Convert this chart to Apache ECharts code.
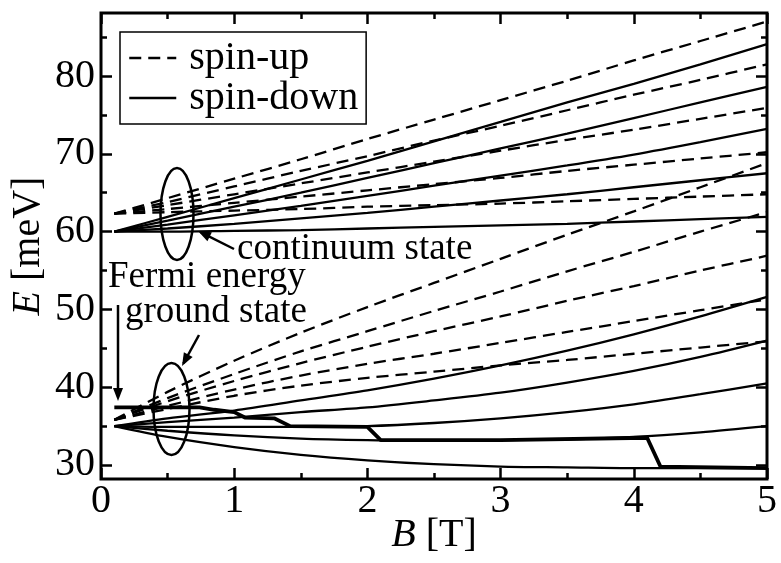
<!DOCTYPE html>
<html>
<head>
<meta charset="utf-8">
<script src="https://cdn.jsdelivr.net/npm/echarts@6/dist/echarts.min.js"></script>
<style>html,body{margin:0;padding:0;background:#fff}#c{width:781px;height:563px}</style>
</head>
<body>
<div id="c"></div>
<script>
// Magnetic field samples [T]
const B = [0.1, 0.5, 1, 1.5, 2, 2.5, 3, 3.5, 4, 4.5, 5];

// Continuum states, spin-down (solid)
const contDown1 = [60, 61.9, 64.3, 66.7, 69.1, 71.6, 74.1, 76.6, 79.0, 81.5, 84.1];
const contDown2 = [60, 61.4, 63.2, 65.0, 66.9, 68.8, 70.7, 72.6, 74.6, 76.6, 78.6];
const contDown3 = [60, 60.9, 62.1, 63.3, 64.6, 65.9, 67.2, 68.5, 69.9, 71.5, 73.2];
const contDown4 = [60, 60.4, 61.0, 61.7, 62.4, 63.2, 64.0, 64.8, 65.7, 66.6, 67.5];
const contDown5 = [60, 60.0, 60.1, 60.2, 60.4, 60.6, 60.8, 61.0, 61.3, 61.6, 61.9];

// Continuum states, spin-up (dashed)
const contUp1 = [62.3, 64.3, 66.8, 69.3, 71.9, 74.4, 76.9, 79.4, 82.0, 84.5, 87.0];
const contUp2 = [62.3, 63.8, 65.8, 67.8, 69.7, 71.7, 73.6, 75.6, 77.6, 79.5, 81.5];
const contUp3 = [62.3, 63.4, 64.8, 66.2, 67.6, 69.0, 70.4, 71.8, 73.1, 74.5, 75.9];
const contUp4 = [62.3, 62.9, 63.7, 64.5, 65.3, 66.1, 66.9, 67.8, 68.6, 69.4, 70.2];
const contUp5 = [62.3, 62.5, 62.7, 62.9, 63.2, 63.4, 63.6, 63.9, 64.2, 64.5, 64.8];

// Ground states, spin-down (solid)
const gndDown1 = [35.0, 36.0, 37.0, 38.3, 39.6, 41.1, 42.8, 44.7, 46.8, 49.1, 51.6];
const gndDown2 = [35.0, 35.5, 36.1, 36.8, 37.4, 38.3, 39.3, 40.6, 42.1, 43.9, 46.0];
const gndDown3 = [35.0, 34.9, 34.9, 34.9, 35.0, 35.4, 36.0, 36.8, 37.8, 39.1, 40.5];
const gndDown4 = [35.0, 34.4, 33.8, 33.4, 33.2, 33.1, 33.2, 33.3, 33.6, 34.2, 35.0];
const gndDown5 = [35.0, 33.6, 32.3, 31.3, 30.6, 30.1, 29.8, 29.7, 29.6, 29.6, 29.6];

// Ground states, spin-up (dashed)
const gndUp1 = [35.8, 39.4, 43.4, 47.0, 50.3, 53.4, 56.5, 59.6, 62.6, 65.7, 68.8];
const gndUp2 = [35.8, 38.6, 41.7, 44.6, 47.2, 49.8, 52.3, 54.9, 57.4, 60.0, 62.5];
const gndUp3 = [35.8, 38.2, 40.8, 43.1, 45.2, 47.2, 49.1, 51.1, 53.0, 55.0, 56.9];
const gndUp4 = [35.8, 37.6, 39.7, 41.5, 43.0, 44.3, 45.7, 47.1, 48.5, 49.9, 51.3];
const gndUp5 = [35.8, 37.2, 38.9, 40.2, 41.2, 42.0, 42.8, 43.5, 44.3, 45.1, 45.9];

// Fermi energy (thick)
const fermiB = [0.1, 0.74, 0.85, 1.0, 1.08, 1.3, 1.42, 2.0, 2.1, 3.0, 4.1, 4.2, 5.0];
const fermiE = [37.4, 37.4, 37.1, 36.8, 36.1, 36.0, 35.0, 34.9, 33.2, 33.2, 33.5, 29.8, 29.6];

// Tick labels
const xTicks = [0, 1, 2, 3, 4, 5];
const yMajor = [30, 40, 50, 60, 70, 80];
const yMinor = [35, 45, 55, 65, 75, 85];

const FONT = '"Liberation Serif", "DejaVu Serif", serif';
const pairs = (xs, ys) => xs.map((x, i) => [x, ys[i]]);

const solidSets = [contDown1, contDown2, contDown3, contDown4, contDown5,
                   gndDown1, gndDown2, gndDown3, gndDown4, gndDown5];
const dashSets = [contUp1, contUp2, contUp3, contUp4, contUp5,
                  gndUp1, gndUp2, gndUp3, gndUp4, gndUp5];

const series = [];
dashSets.forEach(ys => series.push({
  name: 'spin-up', type: 'line', data: pairs(B, ys), symbol: 'none', smooth: 0.3,
  lineStyle: { color: '#000', width: 2.3, type: [12, 7] }, itemStyle: { color: '#000' },
  silent: true, z: 3
}));
solidSets.forEach(ys => series.push({
  name: 'spin-down', type: 'line', data: pairs(B, ys), symbol: 'none', smooth: 0.3,
  lineStyle: { color: '#000', width: 2.3, type: 'solid' }, itemStyle: { color: '#000' },
  silent: true, z: 3
}));
series.push({
  name: 'Fermi energy', type: 'line', data: pairs(fermiB, fermiE), symbol: 'none',
  lineStyle: { color: '#000', width: 3.8 }, itemStyle: { color: '#000' }, silent: true, z: 4
});

const yMin = 28.2, yMax = 88.1;
const tickStyle = { color: '#000', width: 2.5 };
const nameStyle = { fontFamily: FONT, fontSize: 40, color: '#000',
  rich: { i: { fontFamily: FONT, fontSize: 40, fontStyle: 'italic', color: '#000' } } };

function yAx(pos, values, len, labels) {
  return {
    type: 'value', position: pos, min: yMin, max: yMax,
    axisLine: { show: false }, splitLine: { show: false },
    axisTick: { show: true, inside: true, length: len, lineStyle: tickStyle, customValues: values },
    axisLabel: labels ? { show: true, customValues: values, fontFamily: FONT, fontSize: 40, color: '#000', margin: 6 } : { show: false },
    name: labels ? '{i|E} [meV]' : '', nameLocation: 'middle', nameGap: 53, nameRotate: 90,
    nameMoveOverlap: false,
    nameTextStyle: nameStyle
  };
}
function xAx(pos, labels) {
  return {
    type: 'value', position: pos, min: 0, max: 5, interval: 1,
    axisLine: { show: false }, splitLine: { show: false },
    axisTick: { show: true, inside: true, length: 11, lineStyle: tickStyle },
    minorTick: { show: true, splitNumber: 2, length: 6, lineStyle: tickStyle },
    axisLabel: labels ? { show: true, fontFamily: FONT, fontSize: 40, color: '#000', margin: 2 } : { show: false },
    name: labels ? '{i|B} [T]' : '', nameLocation: 'middle', nameGap: 36,
    nameMoveOverlap: false,
    nameTextStyle: nameStyle
  };
}

const chart = echarts.init(document.getElementById('c'), null, { renderer: 'canvas' });
chart.setOption({
  animation: false,
  backgroundColor: '#fff',
  grid: { left: 101, right: 14, top: 13, bottom: 84, show: true, borderColor: '#000', borderWidth: 3,
          backgroundColor: 'transparent', containLabel: false, outerBoundsMode: 'none' },
  xAxis: [xAx('bottom', true), xAx('top', false)],
  yAxis: [yAx('left', yMajor, 11, true), yAx('left', yMinor, 6, false),
          yAx('right', yMajor, 11, false), yAx('right', yMinor, 6, false)],
  legend: {
    data: ['spin-up', 'spin-down'], orient: 'vertical', left: 120, top: 32,
    borderColor: '#000', borderWidth: 1.5, padding: [6, 8, 6, 8], itemGap: 0,
    itemWidth: 47, itemHeight: 14, selectedMode: false,
    itemStyle: { opacity: 0, borderWidth: 0 },
    lineStyle: { width: 2.5 },
    textStyle: { fontFamily: FONT, fontSize: 40, color: '#000', padding: [0, 0, 0, 8] }
  },
  series: series
});

// Annotations (pixel positions)
const arrowHead = (x1, y1, x2, y2, len, half) => {
  const dx = x2 - x1, dy = y2 - y1, L = Math.hypot(dx, dy), ux = dx / L, uy = dy / L;
  const bx = x2 - ux * len, by = y2 - uy * len;
  return [[x2, y2], [bx - uy * half, by + ux * half], [bx + uy * half, by - ux * half]];
};
const stroke = { stroke: '#000', lineWidth: 2.5, fill: null };
const txt = (t, x, y) => ({ type: 'text', x: x, y: y, silent: true,
  style: { text: t, font: '37px ' + FONT, fill: '#000', verticalAlign: 'middle', align: 'left' } });
const arrow = (x1, y1, x2, y2) => [
  { type: 'line', silent: true, shape: { x1: x1, y1: y1, x2: x2 - (x2 - x1) * 0.08, y2: y2 - (y2 - y1) * 0.08 }, style: { stroke: '#000', lineWidth: 2.5 } },
  { type: 'polygon', silent: true, shape: { points: arrowHead(x1, y1, x2, y2, 13, 5) }, style: { fill: '#000' } }
];
chart.setOption({
  graphic: [
    { type: 'ellipse', silent: true, shape: { cx: 177, cy: 214, rx: 16.5, ry: 46 }, style: stroke, z: 10 },
    { type: 'ellipse', silent: true, shape: { cx: 171.5, cy: 409, rx: 18, ry: 46 }, style: stroke, z: 10 },
    txt('continuum state', 237, 249),
    txt('Fermi energy', 108, 277),
    txt('ground state', 125, 312),
    ...arrow(234, 249, 198, 231),
    ...arrow(118, 305, 118, 401),
    ...arrow(199, 335, 182, 366)
  ]
});
</script>
</body>
</html>
